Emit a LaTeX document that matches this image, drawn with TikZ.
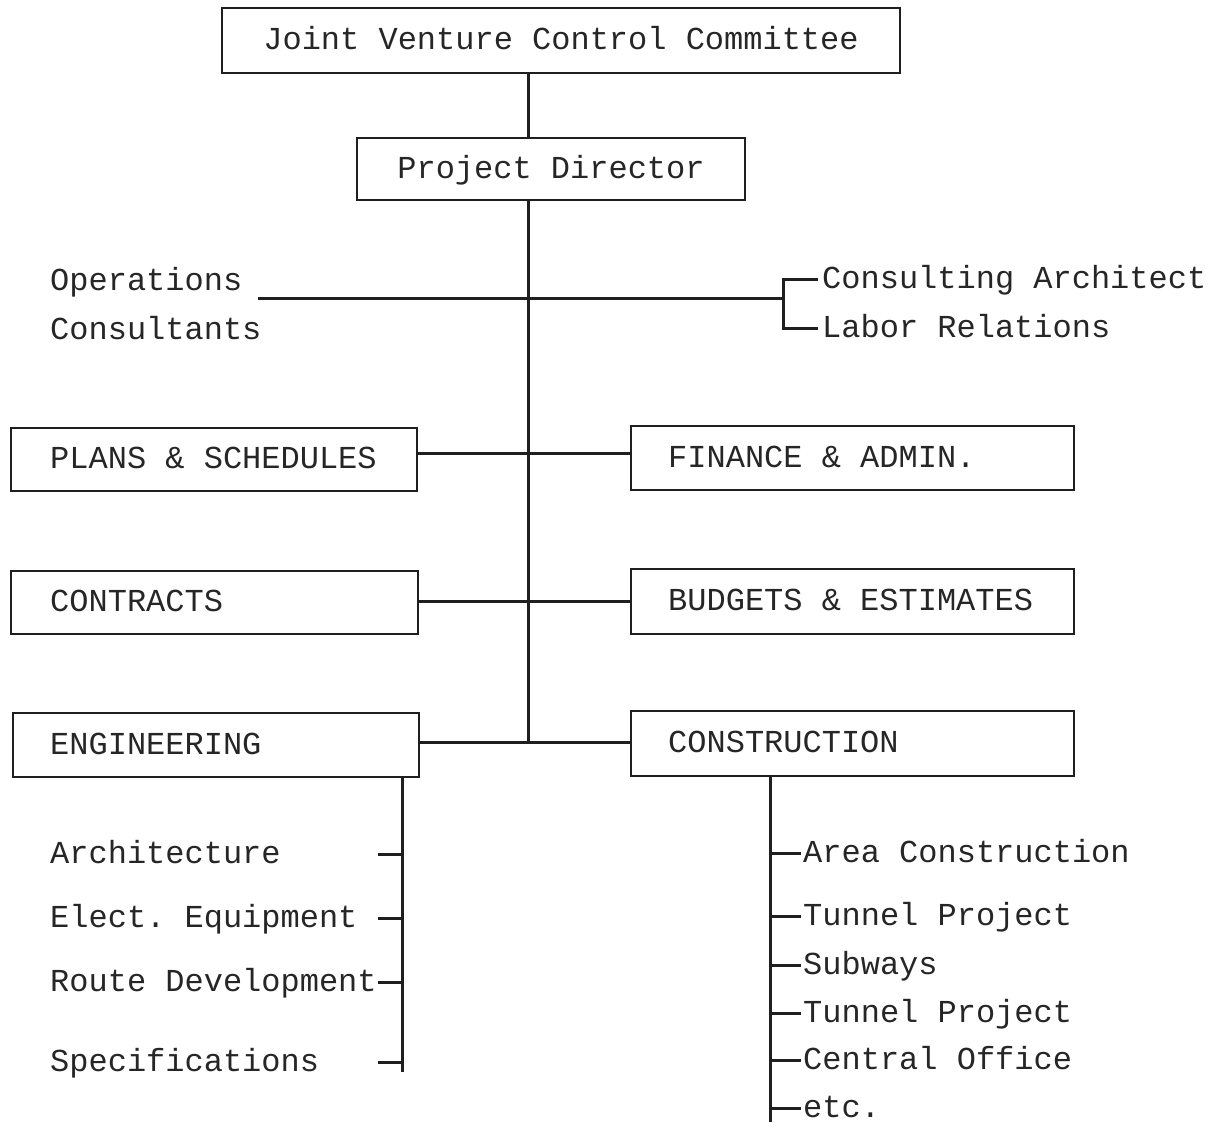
\documentclass[tikz,border=0pt]{standalone}
\usepackage{fontspec}
\setmonofont{Liberation Mono}
\begin{document}
\begin{tikzpicture}[x=1pt,y=-1pt,
  ink/.style={draw=black!88, line width=2.6pt},
  lbl/.style={font=\ttfamily\fontsize{32}{32}\selectfont, text=black!85,
    inner sep=0pt, text height=18pt, text depth=0pt},
  box/.style={ink, line width=2.4pt, rectangle, lbl, inner ysep=0pt},
  dept/.style={box, anchor=north west},
  item/.style={lbl, anchor=west},
  wire/.style={ink, line width=3pt},
]
\useasboundingbox (0,0) rectangle (1220,1122);

% --- top of the chart
\node[box, minimum width=678pt, minimum height=65pt] (jvcc) at (561,40.5) {Joint Venture Control Committee};
\node[box, minimum width=388pt, minimum height=62pt] (pd) at (551,169) {Project Director};

% --- staff positions
\node[item] (ops) at (50,281) {Operations};
\node[item] (cons) at (50,330) {Consultants};
\node[item] (ca) at (822,279) {Consulting Architect};
\node[item] (lr) at (822,328) {Labor Relations};

% --- department boxes, each with its title set 40pt in from the left side
\node[dept, minimum width=406pt, minimum height=63pt] (ps) at (10,427) {};
\node[dept, minimum width=443pt, minimum height=64pt] (fa) at (630,425) {};
\node[dept, minimum width=407pt, minimum height=63pt] (ct) at (10,570) {};
\node[dept, minimum width=443pt, minimum height=65pt] (be) at (630,568) {};
\node[dept, minimum width=406pt, minimum height=64pt] (eng) at (12,712) {};
\node[dept, minimum width=443pt, minimum height=65pt] (con) at (630,710) {};

\node[item] (psT) at ([xshift=40pt]ps.west) {PLANS \& SCHEDULES};
\node[item] (faT) at ([xshift=38pt]fa.west) {FINANCE \& ADMIN.};
\node[item] (ctT) at ([xshift=40pt]ct.west) {CONTRACTS};
\node[item] (beT) at ([xshift=38pt]be.west) {BUDGETS \& ESTIMATES};
\node[item] (engT) at ([xshift=38pt]eng.west) {ENGINEERING};
\node[item] (conT) at ([xshift=38pt]con.west) {CONSTRUCTION};

% --- engineering sections
\node[item] (arch) at (50,854) {Architecture};
\node[item] (elec) at (50,918) {Elect. Equipment};
\node[item] (route) at (50,982) {Route Development};
\node[item] (spec) at (50,1062) {Specifications};

% --- construction sections
\node[item] (area) at (803,853) {Area Construction};
\node[item] (tun1) at (803,916) {Tunnel Project};
\node[item] (sub) at (803,965) {Subways};
\node[item] (tun2) at (803,1013) {Tunnel Project};
\node[item] (cent) at (803,1060) {Central Office};
\node[item] (etc) at (803,1108) {etc.};

% --- helper coordinates
\coordinate (tx) at (528,0);
\coordinate (ex) at (402,0);
\coordinate (cx) at (770,0);
\coordinate (opsL) at (258,298);
\coordinate (brk) at (783,298);
\coordinate (tick) at (378,0);
\coordinate (engEnd) at (402,1072);
\coordinate (conEnd) at (770,1122);

% --- main trunk
\draw[wire] (jvcc.south -| tx) -- (pd.north -| tx);
\draw[wire] (pd.south -| tx) -- ([yshift=3pt]eng.east -| tx);

% --- staff line and bracket
\draw[wire] (opsL) -- (brk);
\draw[wire] ([xshift=-4pt]ca.west) -| (brk) |- ([xshift=-4pt]lr.west);

% --- department connectors
\draw[wire] ([yshift=6pt]ps.east) -- ([yshift=6pt]ps.east -| fa.west);
\draw[wire] ([yshift=1pt]ct.east) -- ([yshift=1pt]ct.east -| be.west);
\draw[wire] ([yshift=3pt]eng.east) -- ([yshift=3pt]eng.east -| con.west);

% --- engineering sections
\draw[wire] (eng.south -| ex) -- (engEnd);
\foreach \n in {arch,elec,route,spec}
  \draw[wire] (\n.west -| tick) -- (\n.west -| ex);

% --- construction sections
\draw[wire] (con.south -| cx) -- (conEnd);
\foreach \n in {area,tun1,sub,tun2,cent,etc}
  \draw[wire] (\n.west -| cx) -- ([xshift=-2pt]\n.west);
\end{tikzpicture}
\end{document}
